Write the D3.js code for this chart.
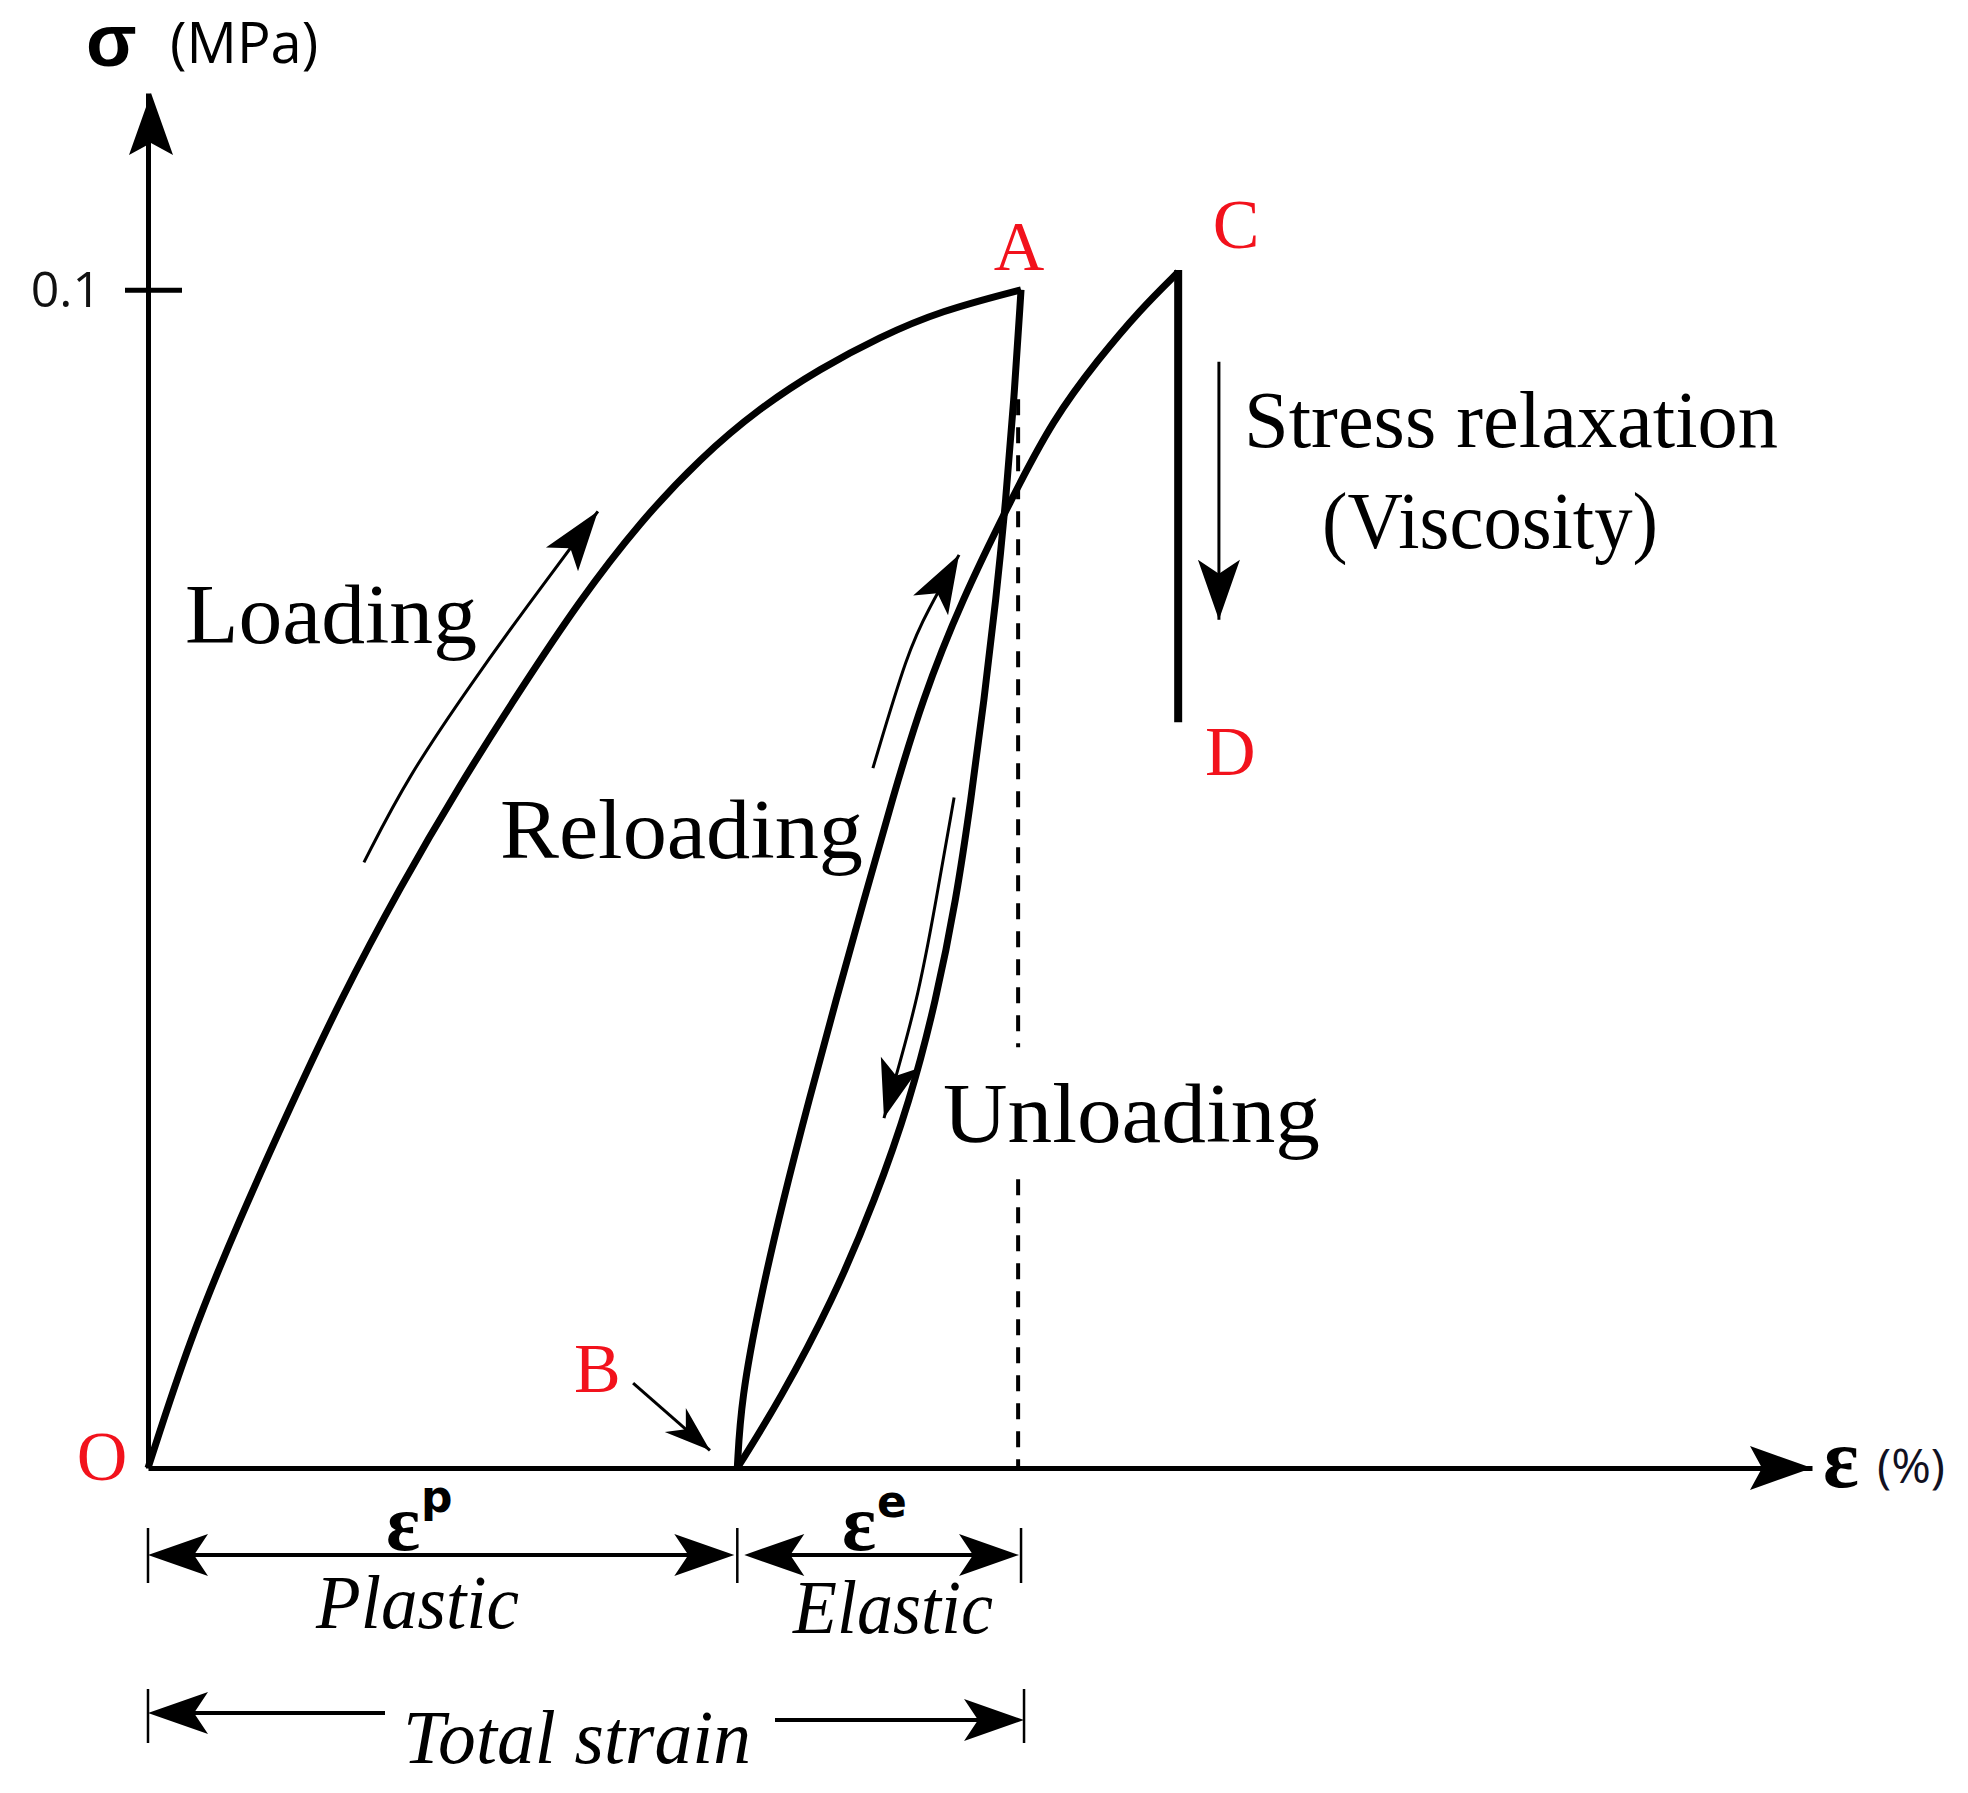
<!DOCTYPE html>
<html>
<head>
<meta charset="utf-8">
<script src="https://cdn.jsdelivr.net/npm/d3@7"></script>
<style>
body { margin: 0; background: #fff; }
</style>
</head>
<body>
<svg></svg>
<script>
// strain (arbitrary %) , stress (MPa)
var loading = [[0,0],[0.144,0.011],[0.316,0.0212],[0.488,0.0306],[0.66,0.0397],[0.866,0.0493],
    [1.072,0.058],[1.278,0.066],[1.485,0.0737],[1.691,0.0803],[1.897,0.0857],[2.103,0.09],
    [2.309,0.0933],[2.515,0.096],[2.722,0.0982],[3.0,0.1]]
var unloading = [[3.0,0.1],[2.976,0.0907],[2.948,0.0822],[2.914,0.0737],[2.873,0.0652],[2.828,0.0567],
    [2.777,0.0482],[2.708,0.0397],[2.619,0.0312],[2.498,0.0227],[2.354,0.0143],[2.172,0.0058],[2.025,0]]
var reloading = [[2.025,0],[2.038,0.0058],[2.103,0.0143],[2.182,0.0227],[2.271,0.0312],[2.364,0.0397],
    [2.46,0.0482],[2.557,0.0567],[2.66,0.0652],[2.797,0.0737],[2.966,0.0822],[3.11,0.089],
    [3.265,0.0941],[3.409,0.0983],[3.54,0.1015]]
var relaxation = [[3.54,0.1015],[3.54,0.0633]]

var loadArrow = [[0.742,0.0514],[0.893,0.0587],[1.12,0.0669],[1.292,0.0728],[1.546,0.0812]]
var reloadArrow = [[2.491,0.0594],[2.612,0.0694],[2.68,0.0728],[2.787,0.0775]]
var unloadArrow = [[2.77,0.0569],[2.708,0.0482],[2.646,0.0397],[2.529,0.0297]]
var relaxArrow = [[3.68,0.0939],[3.68,0.072]]
var bArrow = [[1.667,0.0072],[1.931,0.0015]]

var dashedStrain = 2.99
var dashedParts = [[0.0907,0.0357],[0.0245,0]]

var yTicks = [0.1]
var pointNames = ["O","A","B","C","D"]

var screen = {width: 1968, height: 1793}

var xScale = d3.scaleLinear().domain([0, 5.718]).range([148, 1812])
var yScale = d3.scaleLinear().domain([0, 0.1167]).range([1468, 93])

var svg = d3.select("svg")
    .attr("width", screen.width)
    .attr("height", screen.height)

var line = d3.line()
    .x(function(d) { return xScale(d[0]) })
    .y(function(d) { return yScale(d[1]) })
    .curve(d3.curveBasis)

var px = function(d) { return [xScale(d[0]), yScale(d[1])] }

// notched arrow head, tip at "tip", pointing away from "from"
var headPath = function(tip, from, len, hw, notch)
{
    var dx = tip[0]-from[0], dy = tip[1]-from[1], d = Math.hypot(dx, dy)
    var ux = dx/d, uy = dy/d, nx = -uy, ny = ux
    var bx = tip[0]-ux*len, by = tip[1]-uy*len
    var mx = tip[0]-ux*(len-notch), my = tip[1]-uy*(len-notch)
    return "M"+tip[0]+","+tip[1]+"L"+(bx+nx*hw)+","+(by+ny*hw)+"L"+mx+","+my+
        "L"+(bx-nx*hw)+","+(by-ny*hw)+"Z"
}

// axes
var yAxis = d3.axisLeft(yScale).tickValues(yTicks).tickFormat(d3.format(".1f"))
    .tickSizeInner(23).tickSizeOuter(0).tickPadding(24)
var gy = svg.append("g").attr("transform", "translate(" + xScale(0) + ",0)").call(yAxis)
gy.attr("font-family", "'Open Sans', sans-serif").attr("font-size", 50)
gy.select(".domain").attr("stroke", "#000").attr("stroke-width", 5)
gy.selectAll(".tick line").attr("stroke", "#000").attr("stroke-width", 5).attr("x1", 34)
gy.selectAll(".tick text").attr("fill", "#111").attr("dy", "0.33em")

var xAxis = d3.axisBottom(xScale).tickValues([]).tickSizeOuter(0)
var gx = svg.append("g").attr("transform", "translate(0," + yScale(0) + ")").call(xAxis)
gx.select(".domain").attr("stroke", "#000").attr("stroke-width", 5)

var xEnd = xScale.range()[1], yEnd = yScale.range()[1]
svg.append("path").attr("d", headPath([xEnd, yScale(0)], [0, yScale(0)], 62, 22, 12)).attr("fill", "#000")
svg.append("path").attr("d", headPath([xScale(0) + 3, yEnd], [xScale(0) + 3, 2000], 62, 22, 12)).attr("fill", "#000")

svg.append("text").attr("x", 86).attr("y", 66)
    .attr("font-family", "'Liberation Sans', sans-serif").attr("font-weight", "bold").attr("font-size", 74)
    .text("σ")
svg.append("text").attr("x", 170).attr("y", 63)
    .attr("font-family", "'Open Sans', sans-serif").attr("font-size", 56)
    .text("(MPa)")
svg.append("text").attr("x", 1823).attr("y", 1487)
    .attr("font-family", "'Liberation Serif', serif").attr("font-weight", "bold").attr("font-size", 84)
    .text("ε")
svg.append("text").attr("x", 1877).attr("y", 1483)
    .attr("font-family", "'Open Sans', sans-serif").attr("font-size", 48).attr("fill", "#112")
    .text("(%)")

// dashed guide
svg.selectAll(".dash")
    .data(dashedParts)
    .enter()
    .append("line")
    .attr("x1", xScale(dashedStrain)).attr("x2", xScale(dashedStrain))
    .attr("y1", function(d) { return yScale(d[0]) })
    .attr("y2", function(d) { return yScale(d[1]) })
    .attr("stroke", "#000").attr("stroke-width", 4).attr("stroke-dasharray", "16 12")

// main curves
svg.selectAll(".curve")
    .data([loading, unloading, reloading])
    .enter()
    .append("path")
    .attr("d", line)
    .attr("fill", "none").attr("stroke", "#000").attr("stroke-width", 7)

svg.append("line")
    .attr("x1", xScale(relaxation[0][0])).attr("y1", yScale(relaxation[0][1]) - 2)
    .attr("x2", xScale(relaxation[1][0])).attr("y2", yScale(relaxation[1][1]))
    .attr("stroke", "#000").attr("stroke-width", 8)

// thin direction arrows
var thin = [
    {pts: loadArrow, len: 60, hw: 20},
    {pts: reloadArrow, len: 58, hw: 20},
    {pts: unloadArrow, len: 58, hw: 20},
    {pts: relaxArrow, len: 60, hw: 21},
    {pts: bArrow, len: 46, hw: 16}
]
thin.forEach(function(a)
{
    var n = a.pts.length
    svg.append("path").attr("d", line(a.pts))
        .attr("fill", "none").attr("stroke", "#000").attr("stroke-width", 3)
    svg.append("path").attr("d", headPath(px(a.pts[n-1]), px(a.pts[n-2]), a.len, a.hw, 14))
        .attr("fill", "#000")
})

// point labels
var namedPoints = [loading[0], loading[loading.length-1], unloading[unloading.length-1],
    reloading[reloading.length-1], relaxation[1]]
var labelShift = [[-46, 12], [-2, -20], [-140, -76], [58, -24], [52, 53]]
svg.selectAll(".pt")
    .data(pointNames)
    .enter()
    .append("text")
    .attr("x", function(d, i) { return xScale(namedPoints[i][0]) + labelShift[i][0] })
    .attr("y", function(d, i) { return yScale(namedPoints[i][1]) + labelShift[i][1] })
    .attr("text-anchor", "middle")
    .attr("font-family", "'Liberation Serif', serif").attr("font-size", 70)
    .attr("fill", "#f2121c")
    .text(function(d) { return d })

// annotations
var notes = [
    {t: "Loading", x: 185, y: 643, w: 292, s: 84},
    {t: "Reloading", x: 500, y: 858, w: 363, s: 84},
    {t: "Unloading", x: 943, y: 1142, w: 377, s: 84},
    {t: "Stress relaxation", x: 1244, y: 447, w: 534, s: 80},
    {t: "(Viscosity)", x: 1322, y: 548, w: 336, s: 80},
    {t: "Plastic", x: 316, y: 1628, w: 203, s: 76, i: true},
    {t: "Elastic", x: 793, y: 1633, w: 200, s: 76, i: true},
    {t: "Total strain", x: 403, y: 1763, w: 348, s: 76, i: true}
]
svg.selectAll(".note")
    .data(notes)
    .enter()
    .append("text")
    .attr("x", function(d) { return d.x })
    .attr("y", function(d) { return d.y })
    .attr("textLength", function(d) { return d.w })
    .attr("lengthAdjust", "spacingAndGlyphs")
    .attr("font-family", "'Liberation Serif', serif")
    .attr("font-size", function(d) { return d.s })
    .attr("font-style", function(d) { return d.i ? "italic" : "normal" })
    .attr("fill", "#000")
    .text(function(d) { return d.t })

// strain dimension lines
var xO = xScale(0), xB = xScale(unloading[unloading.length-1][0]), xA = xScale(loading[loading.length-1][0])
var dimY = 1555, totY = 1716

var dimArrow = function(x1, x2, yy)
{
    svg.append("line").attr("x1", x1 + 20).attr("x2", x2 - 20).attr("y1", yy).attr("y2", yy)
        .attr("stroke", "#000").attr("stroke-width", 4)
    svg.append("path").attr("d", headPath([x1, yy], [x2, yy], 60, 21, 14)).attr("fill", "#000")
    svg.append("path").attr("d", headPath([x2, yy], [x1, yy], 60, 21, 14)).attr("fill", "#000")
}
dimArrow(xO, xB - 3, dimY)
dimArrow(xB + 7, xA - 2, dimY)

;[xO, xB, xA].forEach(function(xx)
{
    svg.append("line").attr("x1", xx).attr("x2", xx).attr("y1", dimY - 27).attr("y2", dimY + 28)
        .attr("stroke", "#000").attr("stroke-width", 2.5)
})

svg.append("line").attr("x1", xO + 20).attr("x2", 385).attr("y1", totY - 3).attr("y2", totY - 3)
    .attr("stroke", "#000").attr("stroke-width", 4)
svg.append("path").attr("d", headPath([xO, totY - 3], [xO + 100, totY - 3], 60, 21, 14)).attr("fill", "#000")
svg.append("line").attr("x1", 775).attr("x2", xA - 10).attr("y1", totY + 4).attr("y2", totY + 4)
    .attr("stroke", "#000").attr("stroke-width", 4)
svg.append("path").attr("d", headPath([xA + 3, totY + 4], [xA - 100, totY + 4], 60, 21, 14)).attr("fill", "#000")
;[xO, xA + 3].forEach(function(xx)
{
    svg.append("line").attr("x1", xx).attr("x2", xx).attr("y1", totY - 27).attr("y2", totY + 27)
        .attr("stroke", "#000").attr("stroke-width", 2.5)
})

// strain symbols above dimension lines
var eps = [{x: 386, sup: "p", sx: 421, sy: 1512}, {x: 842, sup: "e", sx: 877, sy: 1517}]
eps.forEach(function(e)
{
    svg.append("text").attr("x", e.x).attr("y", 1550)
        .attr("font-family", "'Liberation Serif', serif").attr("font-weight", "bold").attr("font-size", 80)
        .text("ε")
    svg.append("text").attr("x", e.sx).attr("y", e.sy)
        .attr("font-family", "'DejaVu Sans', sans-serif").attr("font-weight", "bold").attr("font-size", 44)
        .text(e.sup)
})
</script>
</body>
</html>
